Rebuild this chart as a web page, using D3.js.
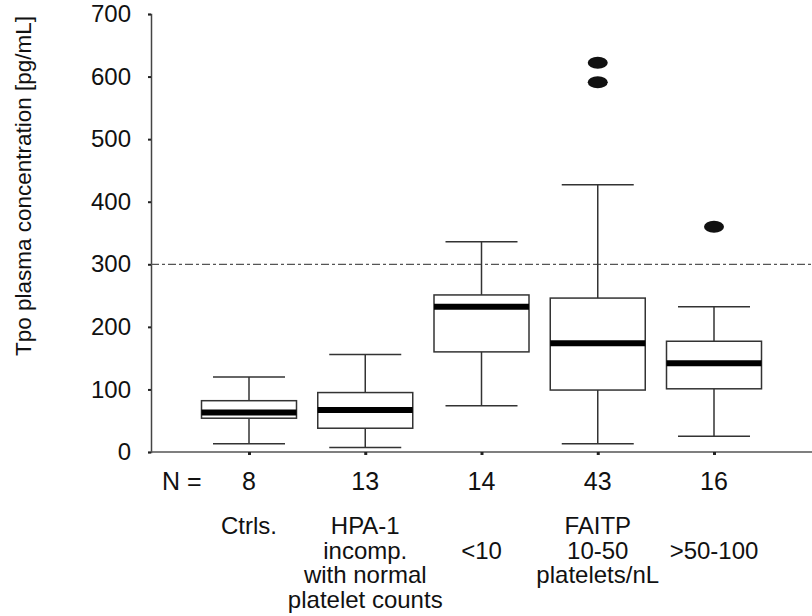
<!DOCTYPE html>
<html>
<head>
<meta charset="utf-8">
<script src="https://cdn.jsdelivr.net/npm/d3@7"></script>
<style>
  body { margin: 0; background: #fff; }
  text { font-family: "Liberation Sans", Arial, Helvetica, sans-serif; fill: #111; }
</style>
</head>
<body>
<div class="chart"></div>
<script>
// values
const categories = ["Ctrls.", "HPA-1", "<10", "10-50", ">50-100"];
const labelLines = [
    ["Ctrls."],
    ["HPA-1", "incomp.", "with normal", "platelet counts"],
    ["", "<10"],
    ["FAITP", "10-50", "platelets/nL"],
    ["", ">50-100"]
];
const nCounts = [8, 13, 14, 43, 16];
const whiskerLow = [13, 7, 74, 13, 25];
const q1 = [54, 38, 160, 99, 101];
const medians = [63, 67, 232, 174, 142];
const q3 = [82, 95, 251, 246, 177];
const whiskerHigh = [120, 156, 336, 427, 232];
const outliers = [[], [], [], [622, 591], [360]];
const refValue = 300;
const yTicks = [0, 100, 200, 300, 400, 500, 600, 700];

const width = 812, height = 616;
const margin = { top: 14, right: 0, bottom: 164, left: 151 };

const svg = d3.select(".chart")
    .append("svg")
    .attr("width", width)
    .attr("height", height);

const yScale = d3.scaleLinear()
    .domain([0, 700])
    .range([height - margin.bottom, margin.top]);

const xScale = d3.scalePoint()
    .domain(categories)
    .range([249, 714]);

const boxWidth = 95, capWidth = 72;

// y axis
const yAxis = d3.axisLeft(yScale)
    .tickValues(yTicks)
    .tickSize(3)
    .tickPadding(17)
    .tickFormat(d3.format("d"));

const gy = svg.append("g")
    .attr("transform", `translate(${margin.left},0)`)
    .call(yAxis);
gy.select(".domain").attr("stroke", "#444").attr("stroke-width", 1.5);
gy.selectAll(".tick line").attr("stroke", "#222").attr("stroke-width", 2);
gy.selectAll(".tick text")
    .attr("font-size", 24)
    .attr("fill", "#111")
    .style("font-family", "'Liberation Sans', Arial, sans-serif");

// x axis line
const gx = svg.append("g")
    .attr("transform", `translate(0,${yScale(0)})`)
    .call(d3.axisBottom(xScale).tickSize(3).tickFormat(""));
gx.select(".domain")
    .attr("d", `M${margin.left},0H${width}`)
    .attr("stroke", "#555")
    .attr("stroke-width", 1.5);
gx.selectAll(".tick line").attr("stroke", "#222").attr("stroke-width", 3);

// reference line
svg.append("line")
    .attr("x1", margin.left)
    .attr("x2", width)
    .attr("y1", yScale(refValue))
    .attr("y2", yScale(refValue))
    .attr("stroke", "#555")
    .attr("stroke-width", 1.2)
    .attr("stroke-dasharray", "8,3,3,3");

// boxes
const boxes = svg.selectAll(".box")
    .data(categories)
    .join("g")
    .attr("class", "box")
    .attr("transform", d => `translate(${xScale(d)},0)`);

boxes.append("line")
    .attr("y1", (d, i) => yScale(whiskerHigh[i]))
    .attr("y2", (d, i) => yScale(q3[i]))
    .attr("stroke", "#333").attr("stroke-width", 1.5);
boxes.append("line")
    .attr("y1", (d, i) => yScale(q1[i]))
    .attr("y2", (d, i) => yScale(whiskerLow[i]))
    .attr("stroke", "#333").attr("stroke-width", 1.5);
boxes.append("line")
    .attr("x1", -capWidth / 2).attr("x2", capWidth / 2)
    .attr("y1", (d, i) => yScale(whiskerHigh[i]))
    .attr("y2", (d, i) => yScale(whiskerHigh[i]))
    .attr("stroke", "#333").attr("stroke-width", 1.5);
boxes.append("line")
    .attr("x1", -capWidth / 2).attr("x2", capWidth / 2)
    .attr("y1", (d, i) => yScale(whiskerLow[i]))
    .attr("y2", (d, i) => yScale(whiskerLow[i]))
    .attr("stroke", "#333").attr("stroke-width", 1.5);
boxes.append("rect")
    .attr("x", -boxWidth / 2)
    .attr("width", boxWidth)
    .attr("y", (d, i) => yScale(q3[i]))
    .attr("height", (d, i) => yScale(q1[i]) - yScale(q3[i]))
    .attr("fill", "#fff")
    .attr("stroke", "#333")
    .attr("stroke-width", 1.5);
boxes.append("line")
    .attr("x1", -boxWidth / 2).attr("x2", boxWidth / 2)
    .attr("y1", (d, i) => yScale(medians[i]))
    .attr("y2", (d, i) => yScale(medians[i]))
    .attr("stroke", "#000").attr("stroke-width", 6);

// outliers
boxes.each(function(d, i) {
    d3.select(this).selectAll("ellipse")
        .data(outliers[i])
        .join("ellipse")
        .attr("cx", 0)
        .attr("cy", v => yScale(v))
        .attr("rx", 10)
        .attr("ry", 6)
        .attr("fill", "#111");
});

// N row
svg.append("text")
    .attr("x", 162)
    .attr("y", 490)
    .attr("font-size", 25)
    .text("N =");
svg.selectAll(".ncount")
    .data(nCounts)
    .join("text")
    .attr("class", "ncount")
    .attr("x", (d, i) => xScale(categories[i]))
    .attr("y", 490)
    .attr("text-anchor", "middle")
    .attr("font-size", 25)
    .text(d => d);

// category labels, one text per line
labelLines.forEach((lines, i) => {
    svg.selectAll(`.cat-${i}`)
        .data(lines.filter(l => l !== "").map(l => ({ l, j: lines.indexOf(l) })))
        .join("text")
        .attr("class", `cat-${i}`)
        .attr("x", xScale(categories[i]))
        .attr("y", d => 534 + d.j * 24.5)
        .attr("text-anchor", "middle")
        .attr("font-size", 24)
        .text(d => d.l);
});

// y title
svg.append("text")
    .attr("transform", `translate(31,${186}) rotate(-90)`)
    .attr("text-anchor", "middle")
    .attr("font-size", 22.5)
    .text("Tpo plasma concentration [pg/mL]");
</script>
</body>
</html>
